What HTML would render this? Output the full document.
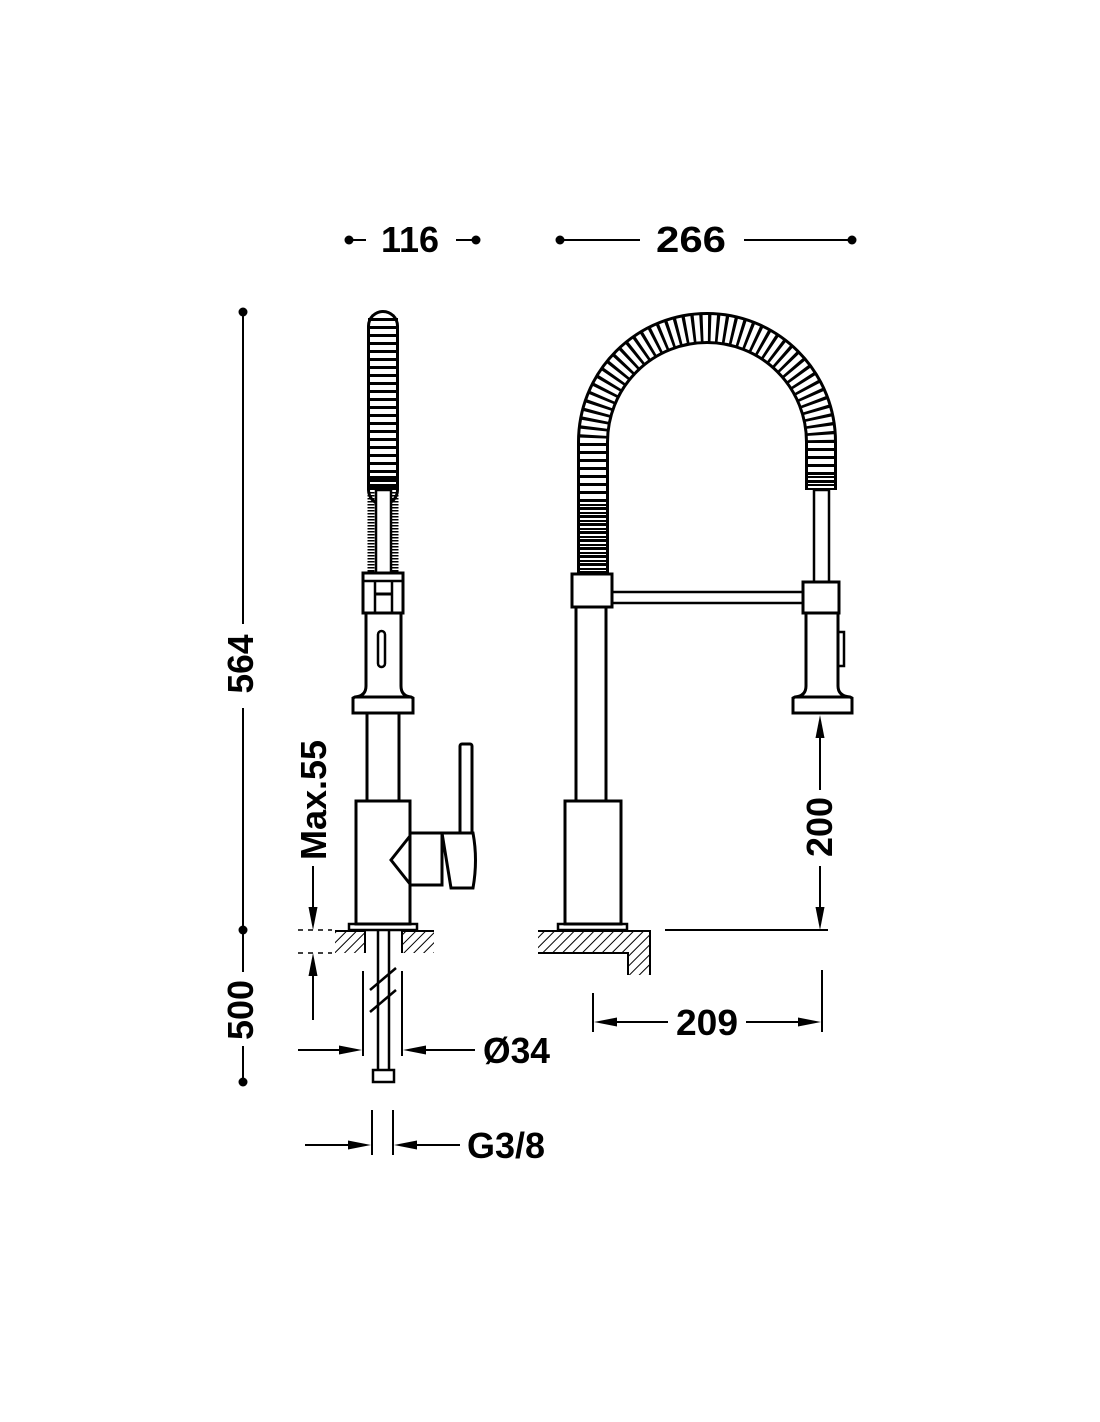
<!DOCTYPE html>
<html><head><meta charset="utf-8"><style>
html,body{margin:0;padding:0;background:#fff;}
svg{display:block;}
text{font-family:"Liberation Sans",sans-serif;font-weight:bold;fill:#000;}
</style></head><body>
<svg width="1100" height="1422" viewBox="0 0 1100 1422" xmlns="http://www.w3.org/2000/svg">
<defs>
<pattern id="h" width="7" height="7" patternUnits="userSpaceOnUse" patternTransform="rotate(45)">
<rect width="7" height="7" fill="#fff"/><line x1="0" y1="0" x2="0" y2="7" stroke="#000" stroke-width="2"/></pattern>
</defs>
<g fill="none" stroke="#000" stroke-width="3">
<!-- top dims -->
<circle cx="349" cy="240" r="4.5" fill="#000" stroke="none"/>
<circle cx="476" cy="240" r="4.5" fill="#000" stroke="none"/>
<line x1="349" y1="240" x2="366" y2="240" stroke-width="2"/>
<line x1="456" y1="240" x2="476" y2="240" stroke-width="2"/>
<circle cx="560" cy="240" r="4.5" fill="#000" stroke="none"/>
<circle cx="852" cy="240" r="4.5" fill="#000" stroke="none"/>
<line x1="560" y1="240" x2="640" y2="240" stroke-width="2"/>
<line x1="744" y1="240" x2="852" y2="240" stroke-width="2"/>
<!-- left vertical dims -->
<circle cx="243" cy="312" r="4.5" fill="#000" stroke="none"/>
<circle cx="243" cy="930" r="4.5" fill="#000" stroke="none"/>
<circle cx="243" cy="1082" r="4.5" fill="#000" stroke="none"/>
<line x1="243" y1="312" x2="243" y2="624" stroke-width="2"/>
<line x1="243" y1="708" x2="243" y2="930" stroke-width="2"/>
<line x1="243" y1="930" x2="243" y2="972" stroke-width="2"/>
<line x1="243" y1="1046" x2="243" y2="1082" stroke-width="2"/>

<!-- SIDE VIEW spring -->
<path d="M383,326 L383,490" stroke-width="32" stroke-linecap="round"/>
<path d="M383,326 L383,490" stroke="#fff" stroke-width="26" stroke-linecap="round"/>
<path d="M383,318 L383,490" stroke-width="30" stroke-dasharray="3 5"/>
<path d="M383,476 L383,492" stroke-width="30" stroke-dasharray="2 2"/>
<rect x="376" y="490" width="15" height="83" stroke-width="2.5" fill="#fff"/>
<path d="M371,492 L371,573 M395,492 L395,573" stroke-width="7" stroke-dasharray="1.5 1.5"/>
<!-- collar -->
<rect x="363" y="573" width="40" height="40" fill="#fff"/>
<line x1="363" y1="581" x2="403" y2="581" stroke-width="2.5"/>
<line x1="375" y1="581" x2="375" y2="613" stroke-width="2.5"/>
<line x1="392" y1="581" x2="392" y2="613" stroke-width="2.5"/>
<line x1="375" y1="594" x2="392" y2="594" stroke-width="3"/>
<path d="M366,613 L366,686 Q366,696 355,697 L353,698 L353,713 L413,713 L413,698 L411,697 Q401,696 401,686 L401,613"/>
<line x1="355" y1="697" x2="411" y2="697"/>
<rect x="378" y="631" width="7" height="36" rx="3.5" stroke-width="2.5"/>
<rect x="367" y="713" width="32" height="88"/>
<rect x="356" y="801" width="54" height="123"/>
<rect x="349" y="924" width="68" height="6" stroke-width="2.5"/>
<!-- handle -->
<rect x="460" y="744" width="12" height="90" rx="2"/>
<path d="M410,833 L442,833 L442,885 L410,885" />
<path d="M410,836 L391,860 L410,884"/>
<path d="M442,833 L473,833 Q478,860 473,888 L451,888 Z" fill="#fff"/>
<!-- counter -->
<rect x="335" y="931" width="30" height="22" fill="url(#h)" stroke="none"/>
<rect x="402" y="931" width="32" height="22" fill="url(#h)" stroke="none"/>
<line x1="335" y1="931" x2="365" y2="931" stroke-width="2"/>
<line x1="402" y1="931" x2="434" y2="931" stroke-width="2"/>
<line x1="365" y1="931" x2="365" y2="953" stroke-width="2"/>
<line x1="402" y1="931" x2="402" y2="953" stroke-width="2"/>
<!-- pipe -->
<line x1="378" y1="931" x2="378" y2="1070" stroke-width="2.5"/>
<line x1="389" y1="931" x2="389" y2="1070" stroke-width="2.5"/>
<path d="M370,990 L396,968 M370,1012 L396,990" stroke-width="2.5"/>
<rect x="373" y="1070" width="21" height="12" stroke-width="2.5"/>
<!-- Max.55 -->
<line x1="313" y1="866" x2="313" y2="910" stroke-width="2"/>
<line x1="313" y1="1020" x2="313" y2="972" stroke-width="2"/>
<line x1="298" y1="930" x2="332" y2="930" stroke-width="1.5" stroke-dasharray="5 5"/>
<line x1="298" y1="953" x2="332" y2="953" stroke-width="1.5" stroke-dasharray="5 5"/>
<!-- Ø34 -->
<line x1="363" y1="971" x2="363" y2="1056" stroke-width="2"/>
<line x1="402" y1="971" x2="402" y2="1056" stroke-width="2"/>
<line x1="298" y1="1050" x2="342" y2="1050" stroke-width="2"/>
<line x1="475" y1="1050" x2="423" y2="1050" stroke-width="2"/>
<!-- G3/8 -->
<line x1="372" y1="1110" x2="372" y2="1155" stroke-width="2"/>
<line x1="393" y1="1110" x2="393" y2="1155" stroke-width="2"/>
<line x1="305" y1="1145" x2="351" y2="1145" stroke-width="2"/>
<line x1="460" y1="1145" x2="414" y2="1145" stroke-width="2"/>

<!-- FRONT VIEW spring arc -->
<path d="M593,574 L593,442 A114,114 0 0 1 821,442 L821,490" stroke-width="32"/>
<path d="M593,574 L593,442 A114,114 0 0 1 821,442 L821,490" stroke="#fff" stroke-width="26"/>
<path d="M593,574 L593,442 A114,114 0 0 1 821,442 L821,490" stroke-width="30" stroke-dasharray="3 5"/>
<path d="M593,500 L593,574" stroke-width="30" stroke-dasharray="2 2"/>
<path d="M821,476 L821,490" stroke-width="30" stroke-dasharray="2 2"/>
<rect x="814" y="490" width="15" height="92" fill="#fff" stroke-width="2.5"/>
<rect x="572" y="574" width="40" height="33" fill="#fff"/>
<rect x="576" y="607" width="30" height="194"/>
<rect x="612" y="592" width="191" height="11" stroke-width="2.5"/>
<rect x="803" y="582" width="36" height="31" fill="#fff"/>
<path d="M806,613 L806,686 Q806,696 795,697 L793,698 L793,713 L852,713 L852,698 L850,697 Q838,696 838,686 L838,613"/>
<line x1="795" y1="697" x2="850" y2="697"/>
<rect x="838" y="632" width="6" height="34" stroke-width="2.5"/>
<rect x="565" y="801" width="56" height="123"/>
<rect x="558" y="924" width="69" height="6" stroke-width="2.5"/>
<path d="M538,931 L650,931 L650,975 L628,975 L628,953 L538,953 Z" fill="url(#h)" stroke="none"/>
<path d="M538,931 L650,931 L650,975 M538,953 L628,953 L628,975" stroke-width="2"/>
<line x1="665" y1="930" x2="828" y2="930" stroke-width="2"/>
<!-- 200 -->
<line x1="820" y1="790" x2="820" y2="735" stroke-width="2"/>
<line x1="820" y1="866" x2="820" y2="910" stroke-width="2"/>
<!-- 209 -->
<line x1="593" y1="993" x2="593" y2="1032" stroke-width="2"/>
<line x1="822" y1="970" x2="822" y2="1032" stroke-width="2"/>
<line x1="668" y1="1022" x2="614" y2="1022" stroke-width="2"/>
<line x1="746" y1="1022" x2="801" y2="1022" stroke-width="2"/>
</g>
<!-- arrowheads -->
<g fill="#000">
<path d="M313,930 L308.5,907 L317.5,907 Z"/>
<path d="M313,953 L308.5,976 L317.5,976 Z"/>
<path d="M362,1050 L339,1045.5 L339,1054.5 Z"/>
<path d="M403,1050 L426,1045.5 L426,1054.5 Z"/>
<path d="M371,1145 L348,1140.5 L348,1149.5 Z"/>
<path d="M394,1145 L417,1140.5 L417,1149.5 Z"/>
<path d="M820,715 L815.5,738 L824.5,738 Z"/>
<path d="M820,930 L815.5,907 L824.5,907 Z"/>
<path d="M594,1022 L617,1017.5 L617,1026.5 Z"/>
<path d="M821,1022 L798,1017.5 L798,1026.5 Z"/>
</g>
<g font-size="36">
<text x="410" y="252" text-anchor="middle" textLength="58" lengthAdjust="spacingAndGlyphs">116</text>
<text x="691" y="252" text-anchor="middle" textLength="70" lengthAdjust="spacingAndGlyphs">266</text>
<text transform="translate(253,664) rotate(-90)" text-anchor="middle" textLength="59" lengthAdjust="spacingAndGlyphs">564</text>
<text transform="translate(253,1010) rotate(-90)" text-anchor="middle" textLength="60" lengthAdjust="spacingAndGlyphs">500</text>
<text transform="translate(326,800) rotate(-90)" text-anchor="middle" textLength="120" lengthAdjust="spacingAndGlyphs">Max.55</text>
<text transform="translate(832,827) rotate(-90)" text-anchor="middle" textLength="60" lengthAdjust="spacingAndGlyphs">200</text>
<text x="707" y="1035" text-anchor="middle" textLength="62" lengthAdjust="spacingAndGlyphs">209</text>
<text x="483" y="1063" textLength="67" lengthAdjust="spacingAndGlyphs">Ø34</text>
<text x="467" y="1158" textLength="78" lengthAdjust="spacingAndGlyphs">G3/8</text>
</g>
</svg>
</body></html>
